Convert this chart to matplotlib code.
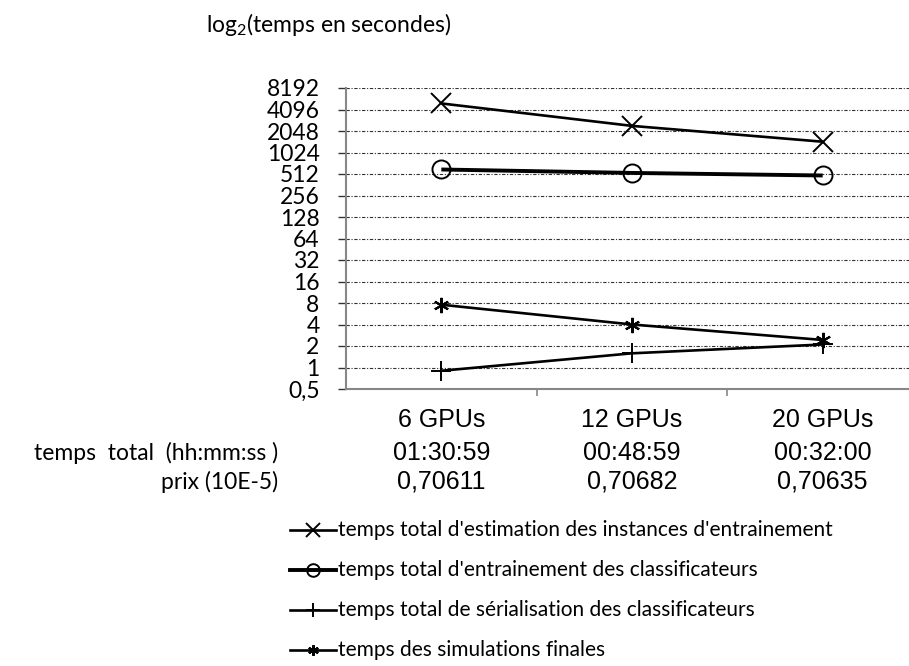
import matplotlib.pyplot as plt
from matplotlib.lines import Line2D

plt.rcParams["font.family"] = ["Lato", "DejaVu Sans"]
plt.rcParams["mathtext.fontset"] = "custom"
plt.rcParams["mathtext.rm"] = "Lato"

gpus = ["6 GPUs", "12 GPUs", "20 GPUs"]
temps_total = ["01:30:59", "00:48:59", "00:32:00"]
prix = ["0,70611", "0,70682", "0,70635"]

# temps en secondes
estimation = [4980, 2415, 1450]
entrainement = [592, 530, 488]
serialisation = [0.90, 1.58, 2.1]
simulations = [7.57, 4.0, 2.43]

yticks = [0.5, 1, 2, 4, 8, 16, 32, 64, 128, 256, 512, 1024, 2048, 4096, 8192]
ylabels = ["0,5"] + [str(v) for v in yticks[1:]]

labels = ["temps total d'estimation des instances d'entrainement",
          "temps total d'entrainement des classificateurs",
          "temps total de sérialisation des classificateurs",
          "temps des simulations finales"]

W, H = 909, 666
fig = plt.figure(figsize=(W / 100, H / 100), dpi=100)
ax = fig.add_axes([346 / W, 1 - 389 / H, (918 - 346) / W, (389 - 88) / H])

x = [1, 2, 3]
star = (6, 2, 0)
styles = [
    dict(data=estimation, marker="x", ms=14, lw=1.9, mew=1.4),
    dict(data=entrainement, marker="o", ms=13, lw=2.8, mew=1.4),
    dict(data=serialisation, marker="+", ms=14, lw=1.9, mew=1.4),
    dict(data=simulations, marker=star, ms=11, lw=1.9, mew=1.5),
]
for s in styles:
    ax.plot(x, s["data"], color="black", lw=s["lw"], marker=s["marker"],
            ms=s["ms"], mew=s["mew"], mfc="none", mec="black",
            solid_capstyle="butt", zorder=3)

ax.set_yscale("log", base=2)
ax.set_ylim(0.5, 8192)
ax.set_yticks(yticks)
ax.set_yticklabels(ylabels, fontsize=16.5)
ax.minorticks_off()
ax.set_xlim(0.5, 3.5)
ax.set_xticks([1.5, 2.5])
ax.set_xticklabels([])

for v in yticks[1:]:
    ax.axhline(v, color="#333333", lw=0.8, ls=(0, (3, 1.5, 1, 1.5)), zorder=1)

for side in ["top", "right"]:
    ax.spines[side].set_visible(False)
for side in ["left", "bottom"]:
    ax.spines[side].set_color("#878787")
    ax.spines[side].set_linewidth(1.5)
ax.tick_params(axis="y", direction="out", length=6, width=1, color="#333333", pad=13)
ax.tick_params(axis="x", direction="out", length=5, width=1.2, color="#878787")

# table sous l'axe des x
for i in range(3):
    cx = ax.transData.transform((x[i], 1))[0] / W
    fig.text(cx, 1 - 420 / H, gpus[i], ha="center", va="center",
             fontsize=18, family="Liberation Sans")
    fig.text(cx, 1 - 453 / H, temps_total[i], ha="center", va="center",
             fontsize=18, family="Liberation Sans")
    fig.text(cx, 1 - 482 / H, prix[i], ha="center", va="center",
             fontsize=18, family="Liberation Sans")
fig.text(278 / W, 1 - 453 / H, "temps  total  (hh:mm:ss )", ha="right",
         va="center", fontsize=16.5)
fig.text(278 / W, 1 - 482 / H, "prix (10E-5)", ha="right", va="center",
         fontsize=16.5)

fig.text(206 / W, 1 - 25 / H, r"log$_{\mathregular{2}}$(temps en secondes)",
         ha="left", va="center", fontsize=16.5)

# légende
rows = [530, 570, 610, 650]
for s, lab, ry in zip(styles, labels, rows):
    yy = 1 - ry / H
    fig.add_artist(Line2D([290 / W, 313 / W, 336 / W], [yy, yy, yy],
                          color="black", lw=s["lw"], marker=s["marker"],
                          markevery=[1], ms=s["ms"] * 0.7, mew=s["mew"],
                          mfc="none", mec="black", transform=fig.transFigure))
    fig.text(338 / W, yy, lab, ha="left", va="center", fontsize=15)

fig.savefig("out.png", dpi=100)
